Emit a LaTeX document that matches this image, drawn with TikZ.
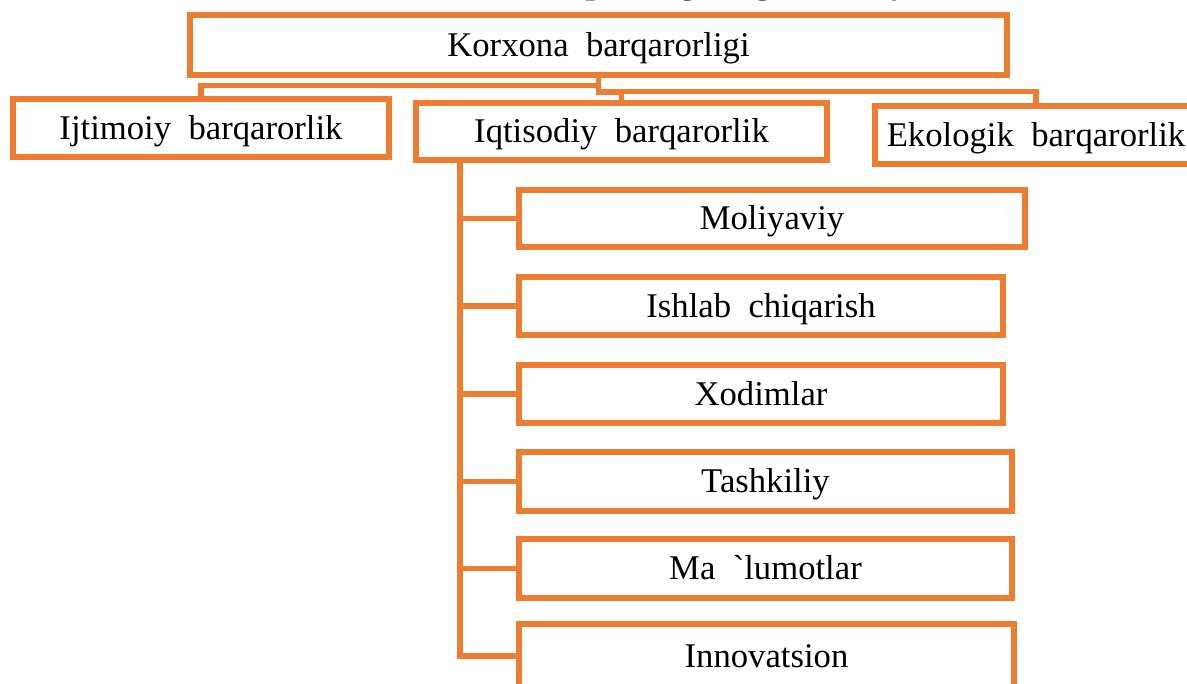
\documentclass[tikz,border=0pt]{standalone}
\usepackage{fontspec}
\setmainfont{Liberation Serif}
\usetikzlibrary{positioning}
\definecolor{pOrange}{RGB}{237,125,49}
\newcommand{\boxfont}{\fontsize{26}{30}\selectfont\spaceskip=0.5em\relax}
\tikzset{
    box/.style={draw=pOrange, line width=3.8pt, inner sep=0pt, text height=17pt, text depth=0pt, font=\boxfont},
    link/.style={draw=pOrange, line width=3.8pt}
}

\begin{document}
\begin{tikzpicture}[x=0.75pt,y=-0.75pt]
\useasboundingbox (0,0) rectangle (1187,683);
\clip (0,0) rectangle (1187,683);
\node[anchor=base west, inner sep=0pt, font=\boxfont\bfseries] (title) at (376,-7) {Korxona barqarorligining tarkibiy tuzilishi};
\node[box, minimum width=612.75pt, minimum height=45pt] (korx) at (598.5, 45) {Korxona barqarorligi};
\node[box, minimum width=282pt, minimum height=43.5pt] (ijti) at (201, 128) {Ijtimoiy barqarorlik};
\node[box, minimum width=308.25pt, minimum height=42.75pt] (iqti) at (621.5, 131.5) {Iqtisodiy barqarorlik};
\node[box, minimum width=241.5pt, minimum height=43.5pt] (ekol) at (1036, 135) {Ekologik barqarorlik};
\node[box, minimum width=379.5pt, minimum height=42.75pt] (moli) at (772, 218.5) {Moliyaviy};
\node[box, minimum width=363pt, minimum height=43.5pt] (ishl) at (761, 306) {Ishlab chiqarish};
\node[box, minimum width=363pt, minimum height=43.5pt] (xodi) at (761, 394) {Xodimlar};
\node[box, minimum width=369.75pt, minimum height=44.25pt] (tash) at (765.5, 481.5) {Tashkiliy};
\node[box, minimum width=369.75pt, minimum height=44.25pt] (malu) at (765.5, 568.5) {Ma \textasciigrave lumotlar};
\node[box, minimum width=371.25pt, minimum height=48pt] (inno) at (766.5, 656) {Innovatsion};
\coordinate (tr) at (460,0);
\draw[link] (korx.south) -- ++(0,8) -| (ijti.north);
\draw[link] (korx.south) -- ++(0,15) -| (iqti.north);
\draw[link] (korx.south) ++(0,14) -| (ekol.north);
\draw[link] (iqti.south -| tr) |- (inno.west);
\foreach \n in {moli,ishl,xodi,tash,malu}
    \draw[link] (\n.west -| tr) -- (\n.west);
\end{tikzpicture}
\end{document}
